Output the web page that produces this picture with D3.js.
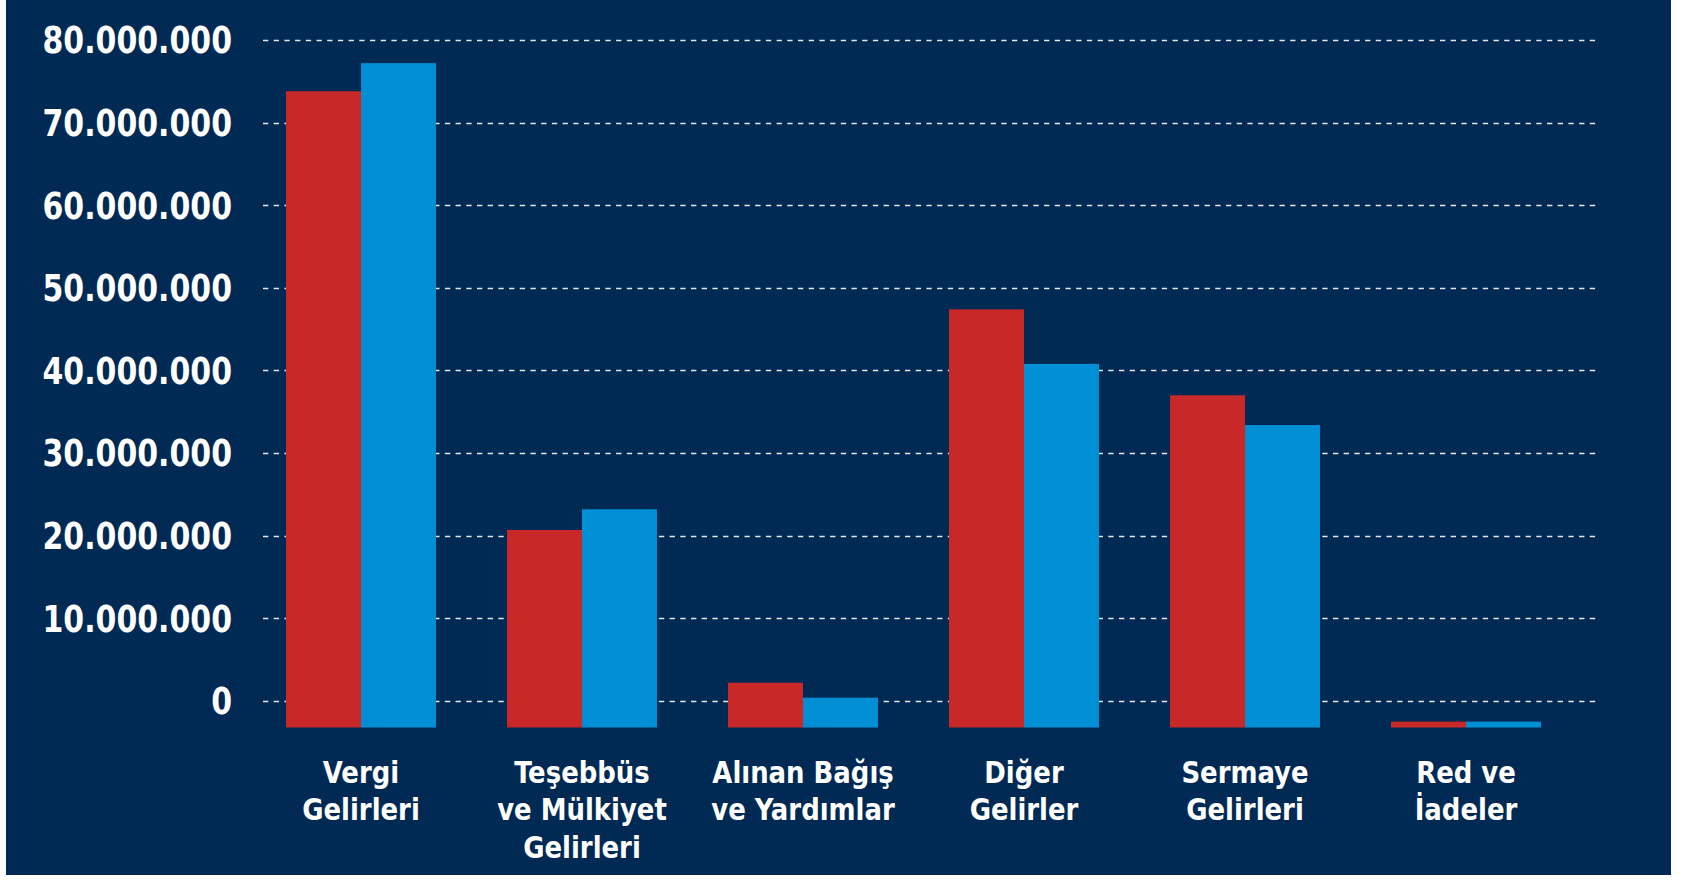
<!DOCTYPE html>
<html>
<head>
<meta charset="utf-8">
<script src="https://cdn.jsdelivr.net/npm/d3@7"></script>
<style>
  body { margin: 0; background: #fff; }
  svg { display: block; }
  .lbl { font-family: 'DejaVu Sans Condensed', 'DejaVu Sans', sans-serif; font-weight: bold; fill: #fff; }
</style>
</head>
<body>
<svg id="chart"></svg>
<script>
// categories, one label line per entry
const categories = ['vergi', 'tesebbus', 'bagis', 'diger', 'sermaye', 'red'];
const categoryLines = [
  ['Vergi', 'Gelirleri'],
  ['Teşebbüs', 've Mülkiyet', 'Gelirleri'],
  ['Alınan Bağış', 've Yardımlar'],
  ['Diğer', 'Gelirler'],
  ['Sermaye', 'Gelirleri'],
  ['Red ve', 'İadeler']
];
const seriesNames = ['Önceki Yıl', 'Cari Yıl'];
const seriesRed = [73800000, 20700000, 2200000, 47400000, 37000000, -2500000];
const seriesBlue = [77200000, 23200000, 400000, 40800000, 33400000, -2500000];
const yTicks = [0, 10000000, 20000000, 30000000, 40000000, 50000000, 60000000, 70000000, 80000000];
const yMin = -3210000;
const yMax = 80000000;

const W = 1690;
const H = 880;
const colors = ['#c82828', '#008fd5'];

const svg = d3.select('#chart').attr('width', W).attr('height', H);

// navy panel
svg.append('rect')
  .attr('x', 6).attr('y', 0)
  .attr('width', 1665).attr('height', 875)
  .attr('fill', '#002a54');

const y = d3.scaleLinear().domain([yMin, yMax]).range([727.5, 40]);

const x0 = d3.scaleBand()
  .domain(categories)
  .range([215, 1612])
  .padding(0.3213);

const x1 = d3.scaleBand()
  .domain(seriesNames)
  .range([0, x0.bandwidth()]);

const trLocale = d3.formatLocale({ decimal: ',', thousands: '.', grouping: [3], currency: ['', ' ₺'] });
const fmt = trLocale.format(',');

// dashed grid
const grid = svg.append('g');
grid.selectAll('line')
  .data(yTicks)
  .join('line')
  .attr('x1', 263)
  .attr('x2', 1600)
  .attr('y1', d => Math.round(y(d)) + 0.5)
  .attr('y2', d => Math.round(y(d)) + 0.5)
  .attr('stroke', '#e4e8ee')
  .attr('stroke-width', 1.4)
  .attr('stroke-dasharray', '5.3,5.4');

// y tick labels, squeezed a bit to look like a condensed face
svg.append('g').selectAll('text')
  .data(yTicks)
  .join('text')
  .attr('class', 'lbl')
  .attr('transform', d => `translate(232,${y(d)}) scale(0.9,1)`)
  .attr('dy', '0.36em')
  .attr('text-anchor', 'end')
  .style('font-size', '37px')
  .text(d => fmt(d));

// bars (grow from the bottom of the value range)
const rows = categories.map((c, i) => ({
  cat: c,
  vals: [seriesRed[i], seriesBlue[i]]
}));

const groups = svg.append('g').selectAll('g')
  .data(rows)
  .join('g')
  .attr('transform', d => `translate(${x0(d.cat)},0)`);

groups.selectAll('rect')
  .data(d => d.vals.map((v, j) => ({ key: seriesNames[j], v: v, j: j })))
  .join('rect')
  .attr('x', d => x1(d.key))
  .attr('width', x1.bandwidth())
  .attr('y', d => y(d.v))
  .attr('height', d => y(yMin) - y(d.v))
  .attr('fill', d => colors[d.j]);

// category labels
const catLabels = svg.append('g').selectAll('text')
  .data(categories)
  .join('text')
  .attr('class', 'lbl')
  .attr('text-anchor', 'middle')
  .style('font-size', '31px')
  .attr('transform', d => `translate(${x0(d) + x0.bandwidth() / 2},782.5) scale(0.93,1)`);

catLabels.selectAll('tspan')
  .data((d, i) => categoryLines[i])
  .join('tspan')
  .attr('x', 0)
  .attr('y', (d, i) => i * 37.7)
  .text(d => d);
</script>
</body>
</html>
